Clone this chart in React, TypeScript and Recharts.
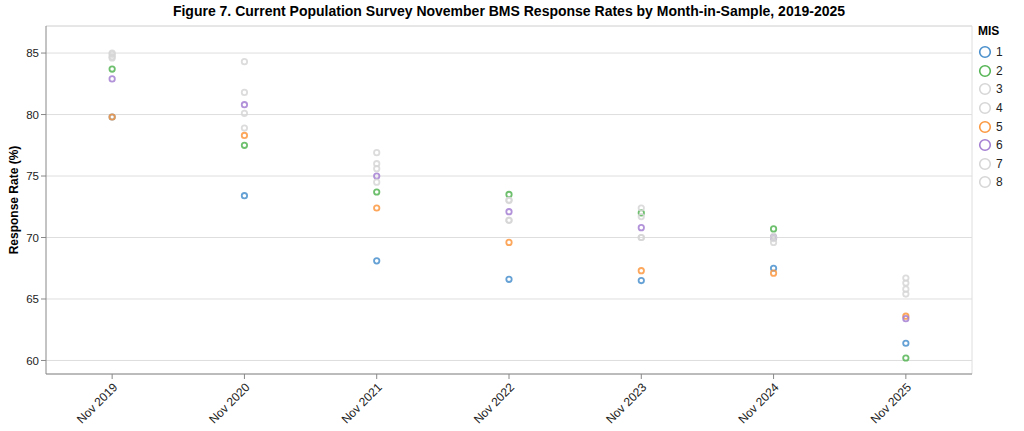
import React from 'react';
import { ScatterChart, Scatter, XAxis, YAxis, CartesianGrid, ReferenceLine } from 'recharts';

// survey years (x axis, one band per November)
const years = [2019, 2020, 2021, 2022, 2023, 2024, 2025];

// response rate (%) by month-in-sample
const mis1 = [79.8, 73.4, 68.1, 66.6, 66.5, 67.5, 61.4];
const mis2 = [83.7, 77.5, 73.7, 73.5, 72.0, 70.7, 60.2];
const mis3 = [85.0, 84.3, 76.9, 73.05, 72.4, 70.1, 66.7];
const mis4 = [84.7, 81.8, 76.0, 73.0, 71.7, 69.9, 66.3];
const mis5 = [79.8, 78.3, 72.4, 69.6, 67.3, 67.1, 63.6];
const mis6 = [82.9, 80.8, 75.0, 72.1, 70.8, 70.0, 63.4];
const mis7 = [84.9, 80.1, 75.6, 71.4, 70.0, 69.6, 65.8];
const mis8 = [84.6, 78.9, 74.5, 71.4, 70.0, 70.0, 65.4];

const yTicks = [60, 65, 70, 75, 80, 85];
const yDomain = [58.9, 87.2];
const xDomain = [2018.5, 2025.5];

const GRAY = '#d6d6d6';
const series = [
  { name: '1', values: mis1, color: '#4a90cc' },
  { name: '2', values: mis2, color: '#55b555' },
  { name: '3', values: mis3, color: GRAY },
  { name: '4', values: mis4, color: GRAY },
  { name: '5', values: mis5, color: '#fb9840' },
  { name: '6', values: mis6, color: '#a47fd2' },
  { name: '7', values: mis7, color: GRAY },
  { name: '8', values: mis8, color: GRAY },
];

const font = '"Liberation Sans", Arial, sans-serif';

const ring = (color: string) => (props: any) => (
  <circle
    cx={props.cx}
    cy={props.cy}
    r={2.7}
    fill='none'
    stroke={color}
    strokeWidth={1.8}
    strokeOpacity={0.85}
  />
);

export default function App() {
  return (
    <div style={{ position: 'absolute', left: 0, top: 0, width: 1024, height: 431, background: '#fff', fontFamily: font }}>
      <div
        style={{
          position: 'absolute',
          top: 3,
          left: 0,
          width: 1018,
          textAlign: 'center',
          fontSize: 14,
          fontWeight: 'bold',
          lineHeight: '16px',
          color: '#000'
        }}
      >
        Figure 7. Current Population Survey November BMS Response Rates by Month-in-Sample, 2019-2025
      </div>
      <div
        style={{
          position: 'absolute',
          left: 14,
          top: 200,
          transform: 'translate(-50%, -50%) rotate(-90deg)',
          fontSize: 12,
          fontWeight: 'bold',
          whiteSpace: 'nowrap',
          color: '#000'
        }}
      >
        Response Rate (%)
      </div>

      <ScatterChart width={1024} height={431} margin={{ top: 26, right: 52, bottom: 0, left: 0 }}>
        <CartesianGrid vertical={false} stroke='#dedede' />
        <ReferenceLine y={yDomain[1]} stroke='#dedede' />
        <ReferenceLine x={xDomain[1]} stroke='#dedede' />
        <XAxis
          type='number'
          dataKey='year'
          domain={xDomain}
          ticks={years}
          tickFormatter={(y) => `Nov ${y}`}
          interval={0}
          height={57}
          angle={-45}
          textAnchor='end'
          tickSize={5}
          tickMargin={3}
          stroke='#888'
          tick={{ fontSize: 12, fill: '#222', fontFamily: font }}
          allowDataOverflow
        />
        <YAxis
          type='number'
          dataKey='value'
          domain={yDomain}
          ticks={yTicks}
          width={46}
          tickSize={5}
          tickMargin={2}
          stroke='#888'
          tick={{ fontSize: 11.5, fill: '#222', fontFamily: font }}
          allowDataOverflow
        />
        {series.map((s) => (
          <Scatter
            key={s.name}
            name={s.name}
            data={years.map((year, i) => ({ year, value: s.values[i] }))}
            shape={ring(s.color)}
            isAnimationActive={false}
          />
        ))}
      </ScatterChart>

      <div style={{ position: 'absolute', left: 978, top: 24, fontSize: 12, color: '#000' }}>
        <div style={{ fontWeight: 'bold', lineHeight: '14px', marginBottom: 5 }}>MIS</div>
        {series.map((s) => (
          <div key={s.name} style={{ display: 'flex', alignItems: 'center', height: 18.6 }}>
            <svg width={14} height={14} style={{ marginRight: 4 }}>
              <circle cx={7} cy={7} r={5.3} fill='none' stroke={s.color} strokeWidth={1.6} />
            </svg>
            <span style={{ color: '#222' }}>{s.name}</span>
          </div>
        ))}
      </div>
    </div>
  );
}
